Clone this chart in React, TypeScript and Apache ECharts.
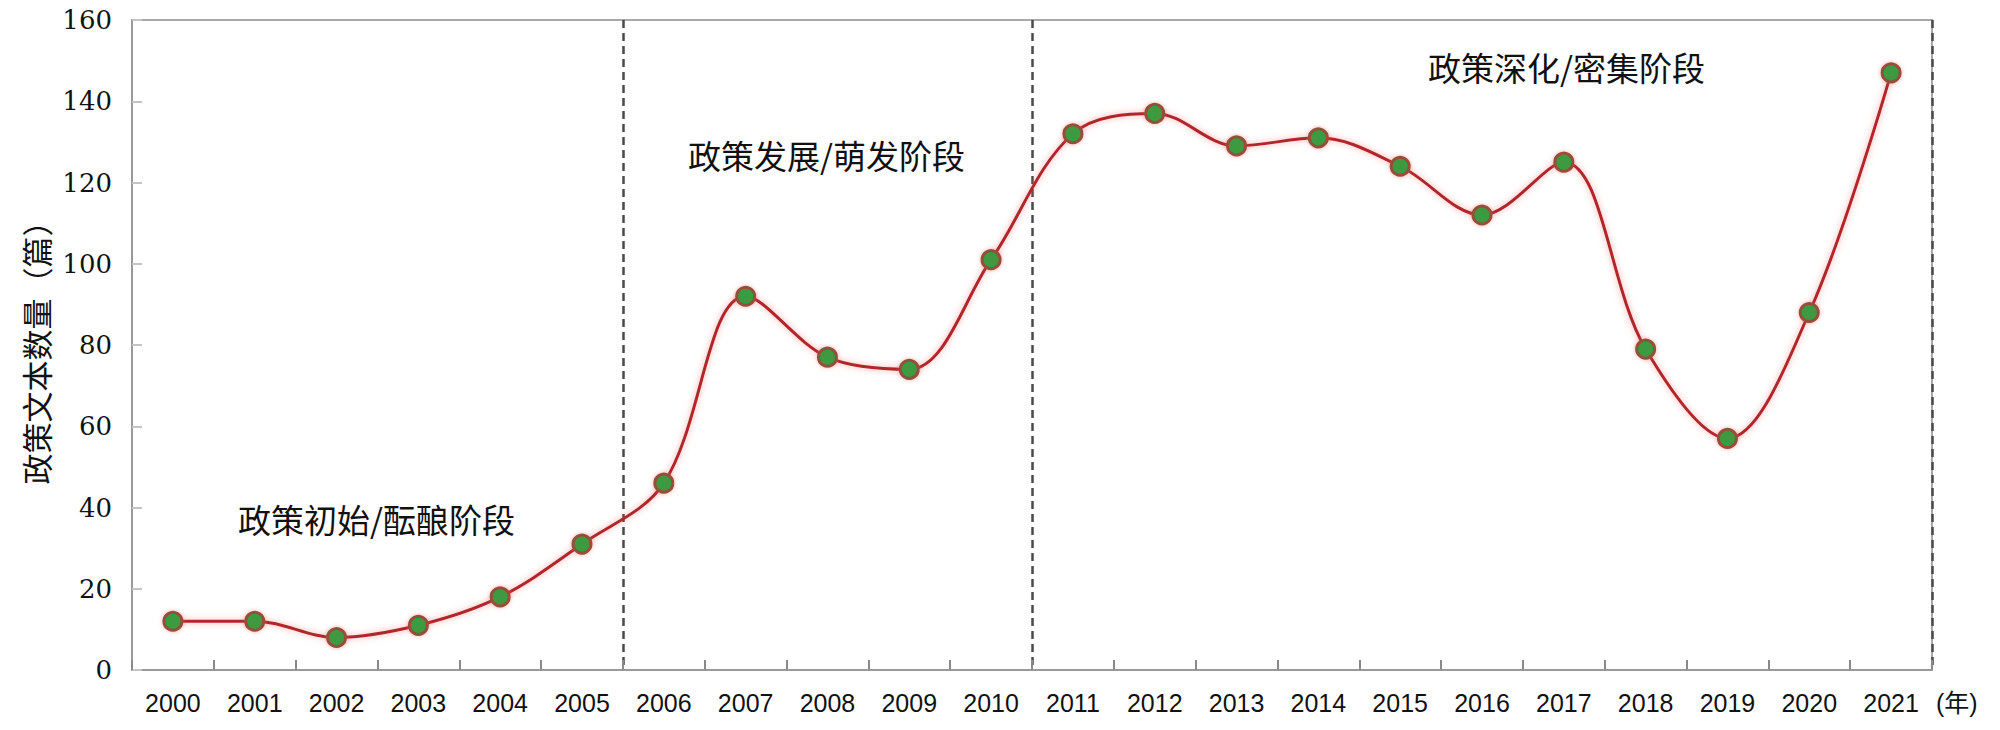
import React, { useEffect, useRef } from "react";
import * as echarts from "echarts";

const years = ["2000","2001","2002","2003","2004","2005","2006","2007","2008","2009","2010","2011","2012","2013","2014","2015","2016","2017","2018","2019","2020","2021"];
const counts = [12, 12, 8, 11, 18, 31, 46, 92, 77, 74, 101, 132, 137, 129, 131, 124, 112, 125, 79, 57, 88, 147];
const stageBoundaryIndexes = [6, 11];
const stageLabels = ["政策初始/酝酿阶段", "政策发展/萌发阶段", "政策深化/密集阶段"];
const yAxisTitle = "政策文本数量（篇）";
const xAxisUnit = "(年)";

export default function App() {
  const ref = useRef<HTMLDivElement>(null);
  useEffect(() => {
    if (!ref.current) return;
    const chart = echarts.init(ref.current, undefined, { renderer: "svg" });
    const cjk = "'Noto Sans CJK SC', sans-serif";
    const annFont = "33px 'Noto Sans CJK SC'";
    chart.setOption({
      animation: false,
      backgroundColor: "#ffffff",
      grid: {
        left: 132,
        right: 68,
        top: 20,
        bottom: 60,
        show: true,
        borderColor: "#a8a8a8",
        borderWidth: 2,
        backgroundColor: "transparent",
      },
      xAxis: {
        type: "category",
        data: years,
        boundaryGap: true,
        axisLine: { show: true, lineStyle: { color: "#9a9a9a", width: 2 } },
        axisTick: { show: true, inside: true, length: 10, lineStyle: { color: "#8a8a8a", width: 2 } },
        axisLabel: {
          color: "#111",
          fontFamily: "'Liberation Sans', Arial, sans-serif",
          fontSize: 25,
          margin: 20,
        },
        splitLine: {
          show: true,
          interval: (i: number) => stageBoundaryIndexes.includes(i),
          lineStyle: { color: "#4a4a4a", width: 2.5, type: [8, 5] },
        },
        name: xAxisUnit,
        nameLocation: "end",
        nameGap: 4,
        nameTextStyle: {
          color: "#111",
          fontFamily: "'Liberation Sans', 'Noto Sans CJK SC', sans-serif",
          fontSize: 25,
          verticalAlign: "top",
          padding: [20, 0, 0, 0],
        },
      },
      yAxis: {
        type: "value",
        min: 0,
        max: 160,
        interval: 20,
        axisLine: { show: true, lineStyle: { color: "#9a9a9a", width: 2 } },
        axisTick: { show: true, inside: true, length: 10, lineStyle: { color: "#c4c4c4", width: 2 } },
        axisLabel: {
          color: "#111",
          fontFamily: "'DejaVu Serif', serif",
          fontSize: 26,
          margin: 20,
        },
        splitLine: { show: false },
        name: yAxisTitle,
        nameLocation: "middle",
        nameGap: 74,
        nameRotate: 90,
        nameTextStyle: { color: "#111", fontFamily: cjk, fontSize: 31 },
      },
      graphic: [
        { type: "text", left: 238, top: 502, style: { text: stageLabels[0], font: annFont, fill: "#111" } },
        { type: "text", left: 688, top: 138, style: { text: stageLabels[1], font: annFont, fill: "#111" } },
        { type: "text", left: 1428, top: 50, style: { text: stageLabels[2], font: annFont, fill: "#111" } },
      ],
      series: [
        {
          type: "line",
          data: counts,
          smooth: 0.35,
          symbol: "circle",
          symbolSize: 18,
          lineStyle: {
            color: "#b0262a",
            width: 3,
            shadowColor: "rgba(255,90,90,0.55)",
            shadowBlur: 6,
          },
          itemStyle: {
            color: "#3d9a3f",
            borderColor: "#94503a",
            borderWidth: 3,
            shadowColor: "rgba(255,90,90,0.5)",
            shadowBlur: 4,
          },
          z: 5,
        },
      ],
    });
    return () => chart.dispose();
  }, []);
  return <div ref={ref} style={{ position: "fixed", left: 0, top: 0, width: 2000, height: 730 }} />;
}
